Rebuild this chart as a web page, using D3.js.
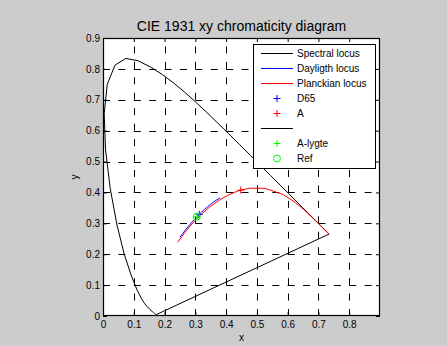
<!DOCTYPE html>
<html>
<head>
<meta charset="utf-8">
<script src="https://cdn.jsdelivr.net/npm/d3@7"></script>
<style>
  body { margin: 0; background: #cccccc; }
  svg { display: block; font-family: "Liberation Sans", Arial, sans-serif; }
</style>
</head>
<body>
<div id="chart"></div>
<script>
// spectral locus (CIE 1931 2deg, 380-700 nm, 5 nm steps)
const spectralX = [0.1741, 0.1740, 0.1738, 0.1736, 0.1733, 0.1730, 0.1726, 0.1721, 0.1714, 0.1703,
  0.1689, 0.1669, 0.1644, 0.1611, 0.1566, 0.1510, 0.1440, 0.1355, 0.1241, 0.1096,
  0.0913, 0.0687, 0.0454, 0.0235, 0.0082, 0.0039, 0.0139, 0.0389, 0.0743, 0.1142,
  0.1547, 0.1929, 0.2296, 0.2658, 0.3016, 0.3373, 0.3731, 0.4087, 0.4441, 0.4788,
  0.5125, 0.5448, 0.5752, 0.6029, 0.6270, 0.6482, 0.6658, 0.6801, 0.6915, 0.7006,
  0.7079, 0.7140, 0.7190, 0.7230, 0.7260, 0.7283, 0.7300, 0.7311, 0.7320, 0.7327,
  0.7334, 0.7340, 0.7344, 0.7346, 0.7347, 0.1741];
const spectralY = [0.0050, 0.0050, 0.0049, 0.0049, 0.0048, 0.0048, 0.0048, 0.0048, 0.0051, 0.0058,
  0.0069, 0.0086, 0.0109, 0.0138, 0.0177, 0.0227, 0.0297, 0.0399, 0.0578, 0.0868,
  0.1327, 0.2007, 0.2950, 0.4127, 0.5384, 0.6548, 0.7502, 0.8120, 0.8338, 0.8262,
  0.8059, 0.7816, 0.7543, 0.7243, 0.6923, 0.6589, 0.6245, 0.5896, 0.5547, 0.5202,
  0.4866, 0.4544, 0.4242, 0.3965, 0.3725, 0.3514, 0.3340, 0.3197, 0.3083, 0.2993,
  0.2920, 0.2859, 0.2809, 0.2770, 0.2740, 0.2717, 0.2700, 0.2689, 0.2680, 0.2673,
  0.2666, 0.2660, 0.2656, 0.2654, 0.2653, 0.0050];

// daylight locus
const dayX = [0.250, 0.260, 0.270, 0.280, 0.290, 0.300, 0.310, 0.320, 0.330, 0.340, 0.350, 0.360, 0.370, 0.380];
const dayY = [0.2550, 0.2684, 0.2812, 0.2934, 0.3050, 0.3160, 0.3264, 0.3362, 0.3454, 0.3540, 0.3620, 0.3694, 0.3762, 0.3824];

// planckian locus, high to low temperature
const planckX = [0.2420, 0.2565, 0.2637, 0.2719, 0.2807, 0.2952, 0.3135, 0.3221, 0.3451, 0.3805, 0.4053,
  0.4369, 0.4476, 0.4770, 0.5267, 0.5857, 0.6251, 0.6528, 0.6900, 0.7050, 0.7180, 0.7280, 0.7340];
const planckY = [0.2380, 0.2573, 0.2668, 0.2774, 0.2883, 0.3048, 0.3237, 0.3318, 0.3516, 0.3768, 0.3907,
  0.4041, 0.4074, 0.4137, 0.4133, 0.3931, 0.3674, 0.3444, 0.3090, 0.2940, 0.2810, 0.2710, 0.2660];

const points = [
  { name: 'D65', x: 0.3127, y: 0.3290, color: '#0000ff', mark: 'plus' },
  { name: 'A', x: 0.4476, y: 0.4074, color: '#ff0000', mark: 'plus' },
  { name: 'A-lygte', x: 0.3050, y: 0.3210, color: '#00ff00', mark: 'plus' },
  { name: 'Ref', x: 0.3045, y: 0.3215, color: '#00ff00', mark: 'circle' }
];

const legendItems = [
  { label: 'Spectral locus', type: 'line', color: '#000' },
  { label: 'Dayligth locus', type: 'line', color: '#0000ff' },
  { label: 'Planckian locus', type: 'line', color: '#ff0000' },
  { label: 'D65', type: 'plus', color: '#0000ff' },
  { label: 'A', type: 'plus', color: '#ff0000' },
  { label: '', type: 'line', color: '#000' },
  { label: 'A-lygte', type: 'plus', color: '#00ff00' },
  { label: 'Ref', type: 'circle', color: '#00ff00' }
];

const xTicks = [0, 0.1, 0.2, 0.3, 0.4, 0.5, 0.6, 0.7, 0.8];
const yTicks = [0, 0.1, 0.2, 0.3, 0.4, 0.5, 0.6, 0.7, 0.8, 0.9];

const W = 447, H = 346;
const margin = { top: 38, right: 67, bottom: 30, left: 103 };
const width = W - margin.left - margin.right;
const height = H - margin.top - margin.bottom;

const root = d3.select('#chart').append('svg')
  .attr('width', W)
  .attr('height', H);

root.append('rect').attr('width', W).attr('height', H).attr('fill', '#cccccc');

const svg = root.append('g')
  .attr('transform', `translate(${margin.left},${margin.top})`);

const x = d3.scaleLinear().domain([0, 0.9]).range([0, width]);
const y = d3.scaleLinear().domain([0, 0.9]).range([height, 0]);

svg.append('rect')
  .attr('width', width).attr('height', height)
  .attr('fill', '#fff');

// grid, dashes start at left / bottom edge
const gx = (x(0.1) - x(0)) / 2;
const gy = (y(0) - y(0.1)) / 2;
const grid = svg.append('g')
  .attr('stroke', '#000')
  .attr('stroke-width', 1);
grid.selectAll('.gx').data(xTicks.slice(1)).enter().append('line')
  .attr('x1', d => Math.round(x(d)) + 0.5).attr('x2', d => Math.round(x(d)) + 0.5)
  .attr('y1', height).attr('y2', 0)
  .attr('stroke-dasharray', `7,${gy - 7}`);
grid.selectAll('.gy').data(yTicks.slice(1, -1)).enter().append('line')
  .attr('y1', d => Math.round(y(d)) + 0.5).attr('y2', d => Math.round(y(d)) + 0.5)
  .attr('x1', 0).attr('x2', width)
  .attr('stroke-dasharray', `7,${gx - 7}`);

// axes, ticks pointing in
const fmt = d => d === 0 ? '0' : d3.format('.1f')(d);
function styleAxis(g) {
  g.select('.domain').remove();
  g.selectAll('text').attr('font-size', 10).attr('fill', '#000')
    .attr('font-family', '"Liberation Sans", Arial, sans-serif');
}
svg.append('g').attr('transform', `translate(0,${height})`)
  .call(d3.axisBottom(x).tickValues(xTicks).tickFormat(fmt).tickSizeInner(-4).tickSizeOuter(0).tickPadding(5))
  .call(styleAxis);
svg.append('g')
  .call(d3.axisLeft(y).tickValues(yTicks).tickFormat(fmt).tickSizeInner(-4).tickSizeOuter(0).tickPadding(3))
  .call(styleAxis);
svg.append('g')
  .call(d3.axisTop(x).tickValues(xTicks).tickFormat('').tickSizeInner(-4).tickSizeOuter(0))
  .call(styleAxis);
svg.append('g').attr('transform', `translate(${width},0)`)
  .call(d3.axisRight(y).tickValues(yTicks).tickFormat('').tickSizeInner(-4).tickSizeOuter(0))
  .call(styleAxis);

// curves
const line = d3.line().x(d => x(d[0])).y(d => y(d[1]));
function draw(xs, ys, color) {
  svg.append('path')
    .datum(xs.map((v, i) => [v, ys[i]]))
    .attr('d', line)
    .attr('fill', 'none')
    .attr('stroke', color)
    .attr('stroke-width', 1);
}
draw(spectralX, spectralY, '#000');
draw(dayX, dayY, '#0000ff');
draw(planckX, planckY, '#ff0000');

function marker(g, type, cx, cy, color) {
  if (type === 'plus') {
    g.append('path')
      .attr('d', `M${cx - 3.5},${cy}H${cx + 3.5}M${cx},${cy - 3.5}V${cy + 3.5}`)
      .attr('stroke', color).attr('stroke-width', 1).attr('fill', 'none');
  } else if (type === 'circle') {
    g.append('circle').attr('cx', cx).attr('cy', cy).attr('r', 3.5)
      .attr('stroke', color).attr('stroke-width', 1).attr('fill', 'none');
  }
}
points.forEach(p => marker(svg, p.mark, x(p.x), y(p.y), p.color));

// border
svg.append('rect')
  .attr('x', 0.5).attr('y', 0.5)
  .attr('width', width - 1).attr('height', height - 1)
  .attr('fill', 'none').attr('stroke', '#000').attr('stroke-width', 1.2);

// legend
const leg = root.append('g').attr('transform', 'translate(253,44)');
leg.append('rect')
  .attr('x', 0.5).attr('y', 0.5).attr('width', 122).attr('height', 124)
  .attr('fill', '#fff').attr('stroke', '#000').attr('stroke-width', 1);
legendItems.forEach((d, i) => {
  const cy = 9.5 + i * 15;
  if (d.type === 'line') {
    leg.append('line').attr('x1', 8).attr('x2', 40).attr('y1', cy).attr('y2', cy)
      .attr('stroke', d.color).attr('stroke-width', 1);
  } else {
    marker(leg, d.type, 24, cy, d.color);
  }
  leg.append('text').attr('x', 44).attr('y', cy).attr('dy', '0.35em')
    .attr('font-size', 10).text(d.label);
});

// title and labels
root.append('text').attr('x', margin.left + width / 2).attr('y', 31)
  .attr('text-anchor', 'middle').attr('font-size', 14).text('CIE 1931 xy chromaticity diagram');
root.append('text').attr('x', margin.left + width / 2).attr('y', 341)
  .attr('text-anchor', 'middle').attr('font-size', 10).text('x');
root.append('text')
  .attr('transform', `translate(78,${margin.top + height / 2}) rotate(-90)`)
  .attr('text-anchor', 'middle').attr('font-size', 10).text('y');
</script>
</body>
</html>
